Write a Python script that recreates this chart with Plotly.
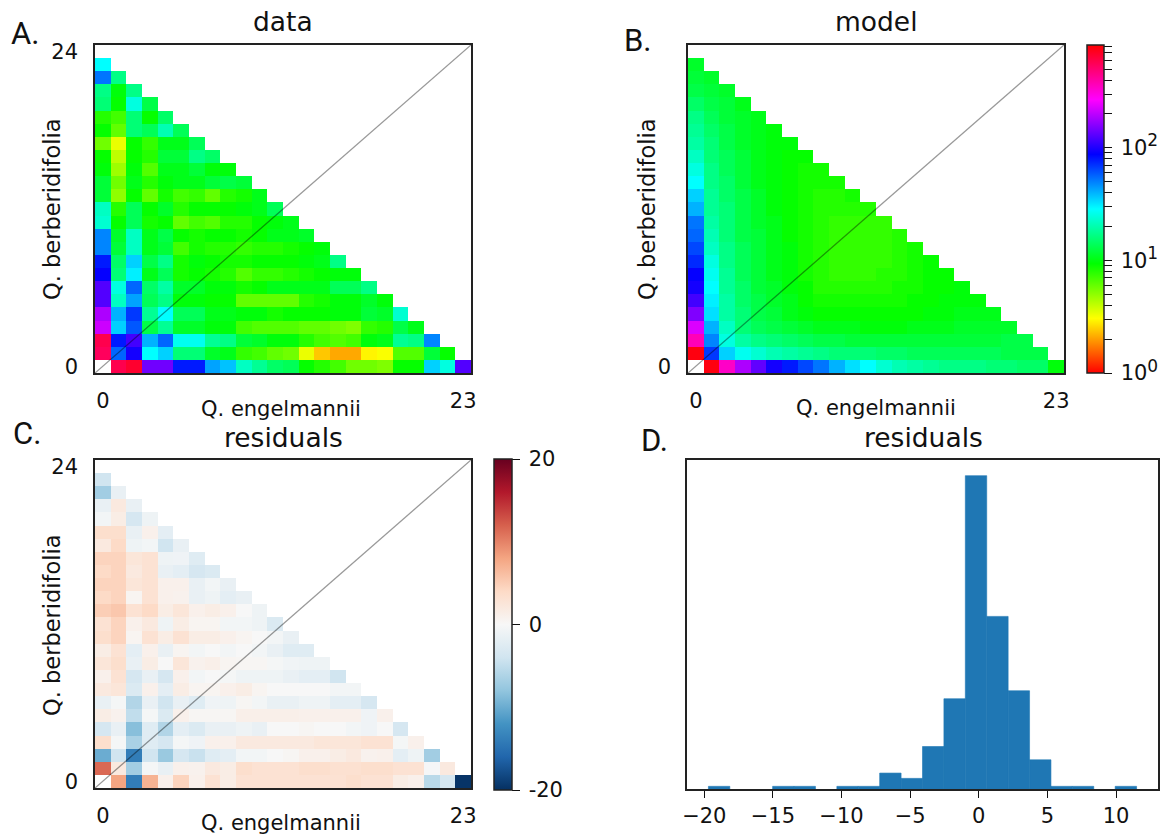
import math
import plotly.graph_objects as go

W, H = 1163, 837
LOG_VMAX = 2.913
FONT = "DejaVu Sans"

data_lognorm = [
    [None,.95,.97,.74,.74,.65,.65,.56,.54,.46,.43,.40,.39,.33,.31,.29,.26,.26,.25,.33,.33,.53,.48,.72],
    [.94,.60,.68,.50,.53,.41,.41,.36,.35,.30,.29,.27,.26,.18,.13,.11,.11,.16,.17,.28,.28,.37,.33],
    [.95,.65,.71,.55,.60,.49,.49,.43,.42,.37,.36,.34,.34,.31,.29,.28,.29,.34,.35,.43,.42,.58],
    [.80,.53,.61,.38,.43,.36,.36,.34,.34,.29,.28,.28,.28,.27,.27,.26,.25,.30,.31,.38,.35],
    [.78,.55,.63,.43,.50,.39,.39,.35,.35,.34,.34,.32,.33,.33,.33,.34,.34,.37,.36,.47],
    [.72,.46,.56,.39,.42,.34,.34,.33,.33,.27,.27,.27,.27,.31,.32,.34,.34,.36,.34],
    [.72,.48,.60,.40,.44,.36,.36,.34,.34,.32,.33,.35,.35,.35,.35,.39,.39,.42],
    [.67,.41,.51,.35,.39,.32,.33,.32,.31,.28,.30,.30,.31,.32,.33,.34,.34],
    [.65,.40,.53,.38,.42,.32,.34,.33,.32,.32,.33,.33,.33,.34,.35,.42],
    [.58,.37,.46,.35,.37,.29,.32,.31,.31,.30,.31,.31,.32,.33,.34],
    [.58,.36,.46,.35,.38,.33,.32,.33,.33,.32,.33,.35,.35,.36],
    [.47,.33,.39,.32,.33,.27,.29,.28,.31,.31,.33,.34,.35],
    [.46,.31,.39,.33,.36,.31,.33,.33,.33,.34,.35,.39],
    [.37,.24,.33,.27,.32,.29,.30,.27,.31,.32,.35],
    [.37,.26,.35,.31,.34,.35,.35,.37,.38,.37],
    [.34,.23,.34,.28,.35,.35,.37,.34,.34],
    [.33,.21,.33,.31,.37,.37,.42,.40],
    [.26,.18,.33,.30,.35,.35,.39],
    [.33,.27,.41,.39,.45,.39],
    [.31,.29,.41,.33,.40],
    [.41,.33,.48,.38],
    [.42,.34,.42],
    [.59,.42],
    [.50],
]

model_lognorm = [
    [None,.99,.87,.78,.73,.68,.65,.62,.59,.55,.52,.50,.47,.45,.44,.43,.42,.42,.42,.41,.41,.40,.40,.34],
    [.99,.63,.53,.49,.47,.45,.44,.43,.42,.41,.41,.41,.40,.40,.39,.39,.39,.39,.39,.39,.38,.38,.38],
    [.88,.58,.48,.44,.42,.41,.40,.39,.38,.38,.37,.37,.37,.37,.37,.37,.37,.37,.37,.37,.38,.38],
    [.81,.55,.46,.41,.39,.38,.37,.36,.35,.35,.35,.34,.34,.34,.35,.35,.35,.36,.36,.36,.36],
    [.75,.52,.44,.41,.38,.37,.35,.34,.33,.33,.33,.33,.33,.33,.33,.34,.34,.35,.35,.35],
    [.71,.51,.44,.40,.38,.36,.35,.33,.32,.32,.32,.32,.32,.32,.33,.33,.34,.34,.34],
    [.68,.50,.43,.40,.37,.36,.34,.33,.31,.31,.31,.31,.31,.32,.32,.33,.33,.34],
    [.67,.49,.43,.39,.37,.35,.34,.32,.31,.30,.30,.30,.31,.31,.32,.33,.33],
    [.64,.48,.42,.39,.37,.35,.34,.32,.31,.30,.30,.30,.30,.31,.32,.33],
    [.62,.46,.42,.39,.37,.35,.34,.32,.31,.30,.30,.30,.30,.31,.32],
    [.60,.45,.41,.38,.37,.35,.33,.32,.31,.30,.30,.30,.30,.31],
    [.59,.44,.41,.38,.36,.35,.33,.32,.31,.30,.30,.30,.30],
    [.55,.43,.41,.38,.36,.34,.33,.32,.31,.31,.31,.31],
    [.53,.43,.40,.38,.36,.34,.33,.32,.31,.31,.32],
    [.50,.42,.40,.37,.35,.34,.33,.32,.32,.32],
    [.48,.42,.39,.37,.35,.34,.33,.32,.32],
    [.46,.41,.39,.37,.35,.34,.33,.33],
    [.44,.41,.38,.36,.35,.34,.34],
    [.43,.40,.38,.36,.35,.34],
    [.42,.39,.37,.36,.35],
    [.40,.38,.37,.35],
    [.38,.37,.36],
    [.37,.36],
    [.36],
]

residuals = [
    [None,8,-14,7,1,4.5,1,3,1.5,3,3,3,3,3,3,3,3.5,3,3,1.5,1,-5.5,-3.5,-19.7],
    [11.5,2,-7,-.3,-1.5,1,.8,2,1.5,3.5,3,3,3,3.5,3.5,3.2,3.2,3.5,3.5,3,3,-.2,2],
    [-10,-4,-14,-4,-7.5,-3.5,-4.5,-2.5,-2,-.5,-.5,0,.3,1,1,1.5,2,.8,1,-2,-1,-7],
    [3.5,-.3,-6.5,-2.5,-3.5,-.3,-.8,1,1,2,2,2,2,2,2.5,2.5,2.5,3,3,-.3,1],
    [-3.5,-1.5,-8.5,-2.5,-6,-2,-3,-1.5,-1.5,-1,-1.5,0,0,.3,0,0,-.5,-.8,0,-3.5],
    [1.5,.8,-5,-.3,-3,1,.3,.3,.3,1.2,1.2,1.2,1.2,1,1,1,1,-.8,1],
    [-1.5,-.3,-6,-1.5,-4,-1.5,-2.5,-.8,-1,.3,-.5,-1.5,-1.5,-1,-1,-2,-2,-3.5],
    [2,2.5,-3,1,-2,1.5,.5,.5,1,1.5,.5,0,0,0,0,-.5,-.5],
    [1,3,-3.5,-1.5,-3.5,1,-.5,0,-.3,-1,-1,-1,-1.5,-2,-2,-4],
    [2.5,3.5,-1.5,1.5,0,2.5,.8,1.2,.5,.3,.3,-.3,-.7,-1,-1],
    [1.5,3,-2,1,-1.5,.5,-.5,0,-.5,0,-.5,-1.5,-2.5,-2.5],
    [3.5,4.5,.5,3,1.5,3,1.5,1.5,1,.5,0,-.5,-1.5],
    [3,4.5,1,2,-1,1.5,.5,.5,-.5,-.5,-1,-3],
    [5,5.5,3,4,1.5,2.5,1,1.5,1,0,-1],
    [4,4.5,.5,3,1,.8,-1.5,-1,-2,-1.5],
    [4.5,4.5,2.5,3,1,1,-1.5,-.5,-1.5],
    [4,4.5,2,3,-1.5,-2,-3.5,-3],
    [4.5,4.5,2.5,3,-1,-.8,-2.5],
    [2,4,-1,-.5,-4,-1.5],
    [3.5,3.5,-1.5,1,-2],
    [-.5,1.5,-3.5,-1],
    [-1.5,2,-1.5],
    [-7,-1.5],
    [-4],
]

hist_left_edges = [-19.7,-18.14,-16.58,-15.02,-13.46,-11.9,-10.34,-8.78,-7.22,-5.66,-4.1,-2.54,-0.98,0.58,2.14,3.7,5.26,6.82,8.38,9.94]
hist_counts = [1,None,None,1,1,None,1,1,6,4,16,34,118,65,37,11,1,1,None,1]
HIST_BIN = 1.56

col_labels = list(range(24))
row_labels = list(range(25))
xlabel = "Q. engelmannii"
ylabel = "Q. berberidifolia"

hsv_scale = [[0, "#ff0000"], [1/6, "#ffff00"], [1/3, "#00ff00"], [.5, "#00ffff"],
             [2/3, "#0000ff"], [5/6, "#ff00ff"], [1, "#ff0000"]]
rdbu_colors = ["#053061", "#2166ac", "#4393c3", "#92c5de", "#d1e5f0", "#f7f7f7",
               "#fddbc7", "#f4a582", "#d6604d", "#b2182b", "#67001f"]
rdbu_scale = [[i / 10, c] for i, c in enumerate(rdbu_colors)]


def pad(rows):
    out = [r + [None] * (24 - len(r)) for r in rows]
    out.append([None] * 24)
    return out


def px(x):
    return x / W


def py(y):
    return 1 - y / H


BOXES = {
    "a": (95, 471, 45, 373),
    "b": (688, 1064, 45, 373),
    "c": (95, 471, 460, 788),
    "d": (687, 1158, 460, 789),
}
AX = {"a": ("xaxis", "yaxis", "x", "y"), "b": ("xaxis2", "yaxis2", "x2", "y2"),
      "c": ("xaxis3", "yaxis3", "x3", "y3"), "d": ("xaxis4", "yaxis4", "x4", "y4")}

fig = go.Figure()
line_spec = dict(color="rgba(0,0,0,0.4)", width=1.3)
log_ticks = [v * 10 ** d for d in range(3) for v in range(1, 10)]
log_ticks = [t for t in log_ticks if t <= 10 ** LOG_VMAX]
log_vals = [math.log10(t) / LOG_VMAX for t in log_ticks]


def power(n):
    return f'\u200910<sup><span style="font-size:17px">{n}</span></sup>'


log_text = [{1: power(0), 10: power(1), 100: power(2)}.get(t, "") for t in log_ticks]

fig.add_trace(go.Heatmap(z=pad(data_lognorm), x=col_labels, y=row_labels, zmin=0, zmax=1,
                         colorscale=hsv_scale, showscale=False, xaxis="x", yaxis="y", hoverongaps=False))
fig.add_trace(go.Heatmap(z=pad(model_lognorm), x=col_labels, y=row_labels, zmin=0, zmax=1,
                         colorscale=hsv_scale, xaxis="x2", yaxis="y2", hoverongaps=False,
                         colorbar=dict(x=px(1087), xanchor="left", y=py(45), yanchor="top", xpad=0, ypad=0,
                                       lenmode="pixels", len=328, thicknessmode="pixels", thickness=17,
                                       outlinecolor="#222", outlinewidth=1.5,
                                       tickmode="array", tickvals=log_vals, ticktext=log_text,
                                       ticks="outside", ticklen=8, tickwidth=1.2, tickcolor="#111",
                                       tickfont=dict(family=FONT, size=21, color="#111"))))
fig.add_trace(go.Heatmap(z=pad(residuals), x=col_labels, y=row_labels, zmin=-20, zmax=20,
                         colorscale=rdbu_scale, xaxis="x3", yaxis="y3", hoverongaps=False,
                         colorbar=dict(x=px(494), xanchor="left", y=py(459), yanchor="top", xpad=0, ypad=0,
                                       lenmode="pixels", len=331, thicknessmode="pixels", thickness=18,
                                       outlinecolor="#222", outlinewidth=1.5,
                                       tickmode="array", tickvals=[-20, 0, 20],
                                       ticktext=["\u2009-20", "\u20090", "\u200920"],
                                       ticks="outside", ticklen=8, tickwidth=1.2, tickcolor="#111",
                                       tickfont=dict(family=FONT, size=21, color="#111"))))
for xa, ya in (("x", "y"), ("x2", "y2"), ("x3", "y3")):
    fig.add_trace(go.Scatter(x=[-0.5, 23.5], y=[-0.5, 24.5], mode="lines", line=line_spec,
                             xaxis=xa, yaxis=ya, showlegend=False, hoverinfo="skip"))

hist_centers = [e + HIST_BIN / 2 for e in hist_left_edges]
fig.add_trace(go.Bar(x=hist_centers, y=hist_counts, width=HIST_BIN,
                     marker=dict(color="#1f77b4", line=dict(width=0.6, color="#1f77b4")),
                     xaxis="x4", yaxis="y4", showlegend=False))

tick_font = dict(family=FONT, size=21, color="#111")
common = dict(showgrid=False, zeroline=False, showline=True, mirror=True, linecolor="#222", linewidth=1.6)


def heat_axes(key, ytickvals, yticktext):
    xa, ya, xr, yr = AX[key]
    l, r, t, b = BOXES[key]
    fig.layout[xa] = dict(domain=[px(l), px(r)], range=[-0.5, 23.5], anchor=yr, tickmode="array",
                          tickvals=[0, 23], ticktext=["0", "23"], ticks="outside", ticklen=8,
                          tickcolor="rgba(0,0,0,0)", tickfont=tick_font, **common)
    fig.layout[ya] = dict(domain=[py(b), py(t)], range=[-0.5, 24.5], anchor=xr, tickmode="array",
                          tickvals=ytickvals, ticktext=yticktext, ticks="outside", ticklen=11,
                          tickcolor="rgba(0,0,0,0)", tickfont=tick_font, **common)


heat_axes("a", [0, 24], ["0", "24"])
heat_axes("b", [0], ["0"])
heat_axes("c", [0, 24], ["0", "24"])
l, r, t, b = BOXES["d"]
fig.layout.xaxis4 = dict(domain=[px(l), px(r)], range=[-21.26, 13.06], anchor="y4", tickmode="array",
                         tickvals=[-20, -15, -10, -5, 0, 5, 10],
                         ticktext=["\u221220", "\u221215", "\u221210", "\u22125", "0", "5", "10"],
                         ticks="outside", ticklen=7, tickwidth=1.3, tickcolor="#111", tickfont=tick_font, **common)
fig.layout.yaxis4 = dict(domain=[py(b), py(t)], range=[0, 123.9], anchor="x4", showticklabels=False, ticks="", **common)


def label(text, x, y, size, rot=0, family=FONT):
    fig.add_annotation(text=text, xref="paper", yref="paper", x=px(x), y=py(y), showarrow=False,
                       xanchor="center", yanchor="middle", textangle=rot,
                       font=dict(family=family, size=size, color="#111"))


label("data", 283, 22, 26.5)
label("model", 876, 22, 26.5)
label("residuals", 283, 437, 26.5)
label("residuals", 923, 437, 26.5)
label(xlabel, 281, 409, 21)
label(xlabel, 876, 408, 21)
label(xlabel, 281, 823, 21)
label(ylabel, 52, 209, 22.5, -90)
label(ylabel, 647, 209, 22.5, -90)
label(ylabel, 52, 625, 22.5, -90)
LETTER = "Roboto"
label("A.", 25, 33, 31, family=LETTER)
label("B.", 638, 40, 31, family=LETTER)
label("C.", 27, 433, 31, family=LETTER)
label("D.", 654, 440, 31, family=LETTER)

fig.update_layout(width=W, height=H, margin=dict(l=0, r=0, t=0, b=0, autoexpand=False), paper_bgcolor="white",
                  plot_bgcolor="white", showlegend=False)
fig.write_html("out.html", config=dict(displayModeBar=False),
               post_script="document.body.style.margin='0';document.documentElement.style.overflow='hidden';")
